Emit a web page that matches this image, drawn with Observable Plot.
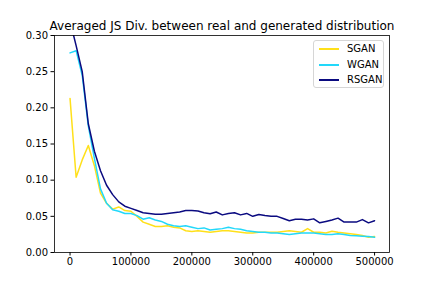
<!DOCTYPE html>
<html>
<head>
<meta charset="utf-8">
<script src="https://cdn.jsdelivr.net/npm/d3@7"></script>
<script src="https://cdn.jsdelivr.net/npm/@observablehq/plot@0.6"></script>
<style>
  html, body { margin: 0; padding: 0; background: #fff; }
  #wrap { position: relative; width: 432px; height: 288px; font-family: "DejaVu Sans", sans-serif; }
  #legend { position: absolute; left: 313px; top: 40px; width: 71px; height: 48px; border: 1px solid #d6d6d6; border-radius: 3px; background: #fff; font-size: 10px; color: #000; box-sizing: border-box; }
  .item { position: absolute; left: 5px; height: 12px; line-height: 12px; }
  .sw { position: absolute; left: 0; top: 5px; width: 20px; height: 2px; }
  .lab { position: absolute; left: 28px; top: 0; white-space: nowrap; }
</style>
</head>
<body>
<div id="wrap"></div>
<script>
const steps = d3.range(0, 510000, 10000);
const seriesNames = ["SGAN", "WGAN", "RSGAN"];
const seriesColors = ["#FFE01A", "#22D8FA", "#0A0A80"];
const sgan = [0.213,0.104,0.128,0.148,0.120,0.082,0.068,0.060,0.063,0.058,0.057,0.050,0.042,0.039,0.036,0.036,0.037,0.035,0.034,0.030,0.029,0.030,0.029,0.028,0.029,0.030,0.030,0.029,0.028,0.027,0.027,0.028,0.028,0.028,0.028,0.029,0.030,0.029,0.028,0.033,0.028,0.028,0.027,0.0295,0.028,0.027,0.026,0.025,0.0235,0.021,0.022];
const wgan = [0.276,0.279,0.245,0.175,0.130,0.088,0.068,0.059,0.057,0.054,0.054,0.051,0.046,0.048,0.045,0.043,0.039,0.037,0.036,0.037,0.035,0.033,0.034,0.031,0.032,0.033,0.035,0.033,0.032,0.030,0.029,0.028,0.028,0.027,0.027,0.026,0.025,0.026,0.027,0.027,0.027,0.026,0.025,0.025,0.026,0.025,0.0235,0.023,0.0225,0.022,0.021];
const rsgan = [0.320,0.286,0.250,0.178,0.140,0.113,0.093,0.080,0.070,0.064,0.061,0.058,0.055,0.054,0.053,0.053,0.054,0.055,0.056,0.058,0.058,0.0575,0.055,0.0535,0.056,0.052,0.054,0.055,0.052,0.054,0.050,0.0525,0.051,0.050,0.050,0.047,0.044,0.046,0.046,0.045,0.0465,0.041,0.043,0.045,0.0475,0.042,0.042,0.042,0.0455,0.041,0.044];
const yTicks = [0, 0.05, 0.10, 0.15, 0.20, 0.25, 0.30];
const xTicks = [0, 100000, 200000, 300000, 400000, 500000];
const title = "Averaged JS Div. between real and generated distribution";

const allVals = [sgan, wgan, rsgan];
const data = [];
seriesNames.forEach((name, si) => {
  steps.forEach((s, i) => data.push({series: name, step: s, value: allVals[si][i]}));
});

const chart = Plot.plot({
  width: 432,
  height: 288,
  marginLeft: 54,
  marginRight: 43,
  marginTop: 35,
  marginBottom: 36,
  style: {fontFamily: "DejaVu Sans, sans-serif", fontSize: "10px", color: "#000", background: "#fff"},
  x: {domain: [-25500, 524500], ticks: xTicks, tickFormat: d => String(d), label: null, tickSize: 3.5, tickPadding: 1.5},
  y: {domain: [0, 0.3], ticks: yTicks, tickFormat: d3.format(".2f"), label: null, tickSize: 3.5, tickPadding: 3},
  color: {domain: seriesNames, range: seriesColors},
  marks: [
    Plot.line(data, {x: "step", y: "value", z: "series", stroke: "series", strokeWidth: 1.5, clip: true}),
    Plot.frame({stroke: "#000", strokeWidth: 0.8}),
    Plot.text([title], {frameAnchor: "top", dy: -14, fontSize: 12, fill: "#000", text: d => d})
  ]
});
const wrap = document.getElementById("wrap");
wrap.appendChild(chart);

const legend = document.createElement("div");
legend.id = "legend";
seriesNames.forEach((n, i) => {
  const it = document.createElement("div");
  it.className = "item";
  it.style.top = (2 + Math.round(i * 15.5)) + "px";
  it.innerHTML = `<span class="sw" style="background:${seriesColors[i]}"></span><span class="lab">${n}</span>`;
  legend.appendChild(it);
});
wrap.appendChild(legend);
</script>
</body>
</html>
